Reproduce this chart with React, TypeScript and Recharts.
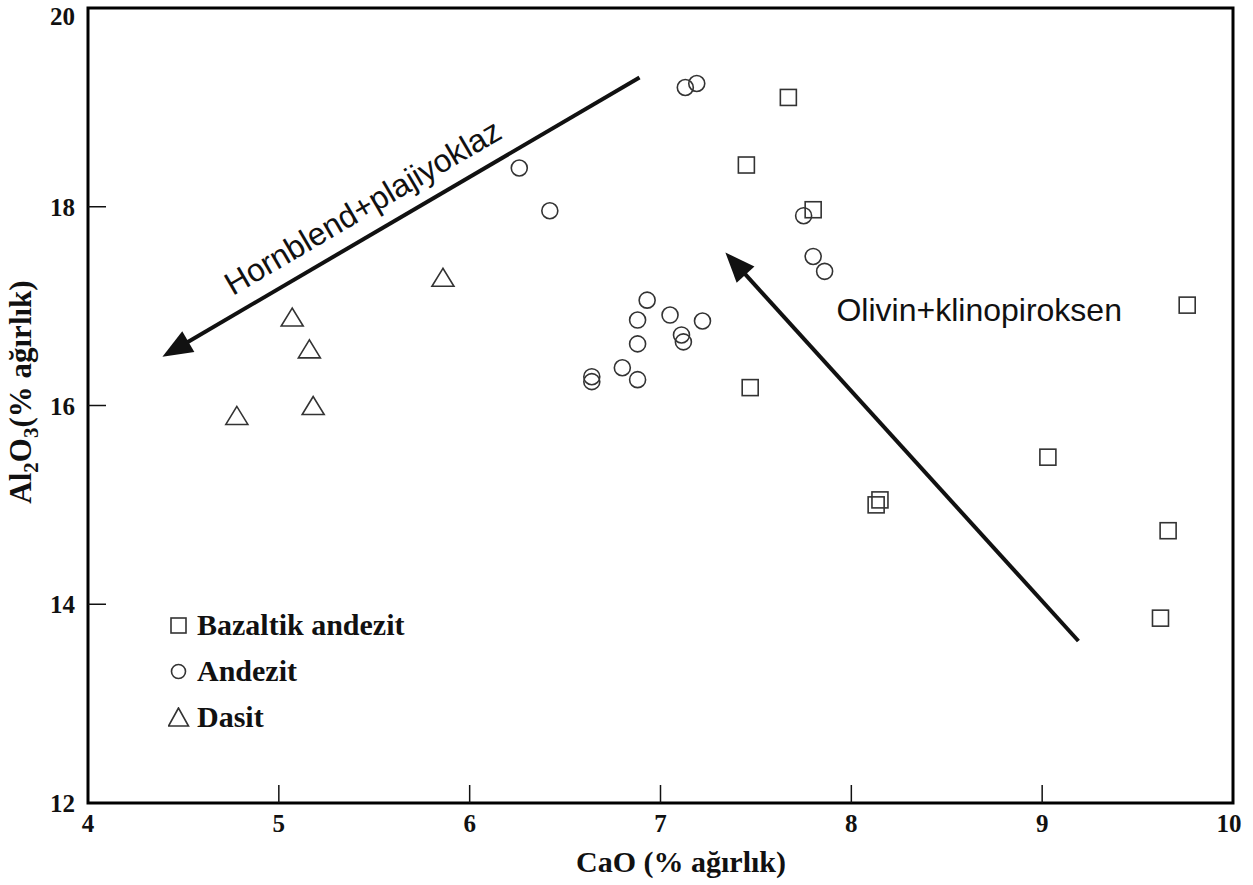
import React from "react";
import {
  ScatterChart,
  Scatter,
  XAxis,
  YAxis,
  ReferenceArea,
  ReferenceLine,
  ReferenceDot,
  Legend,
} from "recharts";

const SERIF = '"Liberation Serif", "Times New Roman", serif';
const SANS = '"Liberation Sans", Arial, sans-serif';
const INK = "#111";
const MARKER = "#333";

// axis ticks
const xTicks = [4, 5, 6, 7, 8, 9, 10];
const yTicks = [12, 14, 16, 18, 20];

// Bazaltik andezit (squares)
const bazaltikX = [7.67, 7.45, 7.8, 9.76, 7.47, 9.03, 8.15, 8.13, 9.66, 9.62];
const bazaltikY = [19.1, 18.42, 17.97, 17.01, 16.18, 15.48, 15.05, 15.0, 14.74, 13.86];

// Andezit (circles)
const andezitX = [
  7.13, 7.19, 6.26, 6.42, 7.75, 7.8, 7.86, 6.93, 6.88, 7.05, 7.22, 7.11, 7.12,
  6.88, 6.8, 6.88, 6.64, 6.64,
];
const andezitY = [
  19.2, 19.24, 18.39, 17.96, 17.91, 17.5, 17.35, 17.06, 16.86, 16.91, 16.85,
  16.71, 16.64, 16.62, 16.38, 16.26, 16.29, 16.24,
];

// Dasit (triangles)
const dasitX = [5.86, 5.07, 5.16, 5.18, 4.78];
const dasitY = [17.28, 16.88, 16.56, 15.99, 15.89];

// trend arrows (tail -> head)
const hornblendArrow = [
  { x: 6.89, y: 19.3 },
  { x: 4.39, y: 16.49 },
];
const olivinArrow = [
  { x: 9.19, y: 13.63 },
  { x: 7.34, y: 17.54 },
];
const olivinLabelAt = { x: 8.67, y: 16.96 };

const toPoints = (xs: number[], ys: number[]) =>
  xs.map((x, i) => ({ x, y: ys[i] }));

const SquareShape = (p: any) => (
  <rect
    x={p.cx - 8}
    y={p.cy - 8}
    width={16}
    height={16}
    fill="none"
    stroke={MARKER}
    strokeWidth={1.6}
  />
);

const CircleShape = (p: any) => (
  <circle cx={p.cx} cy={p.cy} r={8} fill="none" stroke={MARKER} strokeWidth={1.6} />
);

const TriangleShape = (p: any) => (
  <polygon
    points={`${p.cx},${p.cy - 10} ${p.cx - 11},${p.cy + 8} ${p.cx + 11},${p.cy + 8}`}
    fill="none"
    stroke={MARKER}
    strokeWidth={1.6}
  />
);

const BottomTick = ({ x, y, payload }: any) => (
  <g>
    {payload.value > 4 && payload.value < 10 && (
      <line x1={x} x2={x} y1={y} y2={y - 18} stroke={INK} strokeWidth={1.5} />
    )}
    <text
      x={payload.value === 10 ? x - 4 : x}
      y={y + 29}
      textAnchor="middle"
      fontFamily={SERIF}
      fontWeight="bold"
      fontSize={25}
      fill={INK}
    >
      {payload.value}
    </text>
  </g>
);

const TopTick = ({ x, y, payload }: any) =>
  payload.value > 4 && payload.value < 10 ? (
    <line x1={x} x2={x} y1={y} y2={y + 18} stroke={INK} strokeWidth={1.5} />
  ) : null;

const LeftTick = ({ x, y, payload }: any) => (
  <g>
    {payload.value > 12 && payload.value < 20 && (
      <line x1={x} x2={x + 18} y1={y} y2={y} stroke={INK} strokeWidth={1.5} />
    )}
    <text
      x={x - 13}
      y={Math.max(y, 16) + 9}
      textAnchor="end"
      fontFamily={SERIF}
      fontWeight="bold"
      fontSize={25}
      fill={INK}
    >
      {payload.value}
    </text>
  </g>
);

const RightTick = ({ x, y, payload }: any) =>
  payload.value > 12 && payload.value < 20 ? (
    <line x1={x} x2={x - 18} y1={y} y2={y} stroke={INK} strokeWidth={1.5} />
  ) : null;

const arrowShape = (label?: string) => (props: any) => {
  const { x1, y1, x2, y2 } = props;
  const dx = x2 - x1;
  const dy = y2 - y1;
  const len = Math.hypot(dx, dy);
  const ux = dx / len;
  const uy = dy / len;
  const headLen = 30;
  const headW = 12;
  const bx = x2 - ux * headLen;
  const by = y2 - uy * headLen;
  const pts = `${x2},${y2} ${bx - uy * headW},${by + ux * headW} ${bx + uy * headW},${by - ux * headW}`;
  const mx = (x1 + x2) / 2 + ux * 28 - uy * 28;
  const my = (y1 + y2) / 2 + uy * 28 + ux * 28;
  const angle = (Math.atan2(-uy, -ux) * 180) / Math.PI;
  return (
    <g>
      <line x1={x1} y1={y1} x2={bx + ux * 4} y2={by + uy * 4} stroke={INK} strokeWidth={4} />
      <polygon points={pts} fill={INK} />
      {label && (
        <text
          x={mx}
          y={my}
          transform={`rotate(${angle}, ${mx}, ${my})`}
          textAnchor="middle"
          dominantBaseline="central"
          fontFamily={SANS}
          fontSize={32}
          fill={INK}
        >
          {label}
        </text>
      )}
    </g>
  );
};

const legendRows = [
  { name: "Bazaltik andezit", icon: <rect x={3} y={3} width={15} height={15} fill="none" stroke={MARKER} strokeWidth={1.6} /> },
  { name: "Andezit", icon: <circle cx={10.5} cy={10.5} r={7} fill="none" stroke={MARKER} strokeWidth={1.6} /> },
  { name: "Dasit", icon: <polygon points="10.5,1 0.5,19 20.5,19" fill="none" stroke={MARKER} strokeWidth={1.6} /> },
];

const LegendBox = () => (
  <div style={{ fontFamily: SERIF, fontSize: 30, fontWeight: "bold", color: INK }}>
    {legendRows.map((r) => (
      <div key={r.name} style={{ display: "flex", alignItems: "center", height: 46 }}>
        <svg width={22} height={21} style={{ marginRight: 7 }}>
          {r.icon}
        </svg>
        <span>{r.name}</span>
      </div>
    ))}
  </div>
);

const YLabel = () => (
  <text
    x={31}
    y={392}
    transform="rotate(-90, 31, 392)"
    textAnchor="middle"
    fontFamily={SERIF}
    fontWeight="bold"
    fontSize={31}
    fill={INK}
  >
    Al<tspan dy={7} fontSize={21}>2</tspan>
    <tspan dy={-7}>O</tspan>
    <tspan dy={7} fontSize={21}>3</tspan>
    <tspan dy={-7}>(% ağırlık)</tspan>
  </text>
);

const XLabel = () => (
  <text
    x={681}
    y={872}
    textAnchor="middle"
    fontFamily={SERIF}
    fontWeight="bold"
    fontSize={30}
    fill={INK}
  >
    CaO (% ağırlık)
  </text>
);

export default function App() {
  return (
    <div style={{ position: "absolute", left: 0, top: 0, background: "#fff" }}>
      <ScatterChart
        width={1253}
        height={885}
        margin={{ top: 8, right: 20, bottom: 0, left: 0 }}
      >
        <XAxis
          xAxisId="bottom"
          type="number"
          dataKey="x"
          domain={[4, 10]}
          ticks={xTicks}
          interval={0}
          height={82}
          axisLine={false}
          tickLine={false}
          tickSize={0}
          tickMargin={0}
          tick={<BottomTick />}
          label={<XLabel />}
        />
        <XAxis
          xAxisId="top"
          orientation="top"
          type="number"
          domain={[4, 10]}
          ticks={xTicks}
          interval={0}
          height={0}
          axisLine={false}
          tickLine={false}
          tickSize={0}
          tickMargin={0}
          tick={<TopTick />}
        />
        <YAxis
          yAxisId="left"
          type="number"
          dataKey="y"
          domain={[12, 20]}
          ticks={yTicks}
          interval={0}
          width={88}
          axisLine={false}
          tickLine={false}
          tickSize={0}
          tickMargin={0}
          tick={<LeftTick />}
          label={<YLabel />}
        />
        <YAxis
          yAxisId="right"
          orientation="right"
          type="number"
          domain={[12, 20]}
          ticks={yTicks}
          interval={0}
          width={0}
          axisLine={false}
          tickLine={false}
          tickSize={0}
          tickMargin={0}
          tick={<RightTick />}
        />
        <ReferenceArea
          xAxisId="bottom"
          yAxisId="left"
          x1={4}
          x2={10}
          y1={12}
          y2={20}
          fill="none"
          fillOpacity={0}
          stroke="#000"
          strokeWidth={3}
        />
        <ReferenceLine
          xAxisId="bottom"
          yAxisId="left"
          segment={hornblendArrow}
          shape={arrowShape("Hornblend+plajiyoklaz")}
        />
        <ReferenceLine
          xAxisId="bottom"
          yAxisId="left"
          segment={olivinArrow}
          shape={arrowShape()}
        />
        <ReferenceDot
          xAxisId="bottom"
          yAxisId="left"
          x={olivinLabelAt.x}
          y={olivinLabelAt.y}
          r={0}
          fill="none"
          stroke="none"
          label={{
            value: "Olivin+klinopiroksen",
            position: "center",
            fontFamily: SANS,
            fontSize: 32,
            fill: INK,
          }}
        />
        <Scatter
          name="Bazaltik andezit"
          xAxisId="bottom"
          yAxisId="left"
          data={toPoints(bazaltikX, bazaltikY)}
          shape={SquareShape}
          isAnimationActive={false}
        />
        <Scatter
          name="Andezit"
          xAxisId="bottom"
          yAxisId="left"
          data={toPoints(andezitX, andezitY)}
          shape={CircleShape}
          isAnimationActive={false}
        />
        <Scatter
          name="Dasit"
          xAxisId="bottom"
          yAxisId="left"
          data={toPoints(dasitX, dasitY)}
          shape={TriangleShape}
          isAnimationActive={false}
        />
        <Legend
          layout="vertical"
          align="center"
          verticalAlign="middle"
          content={<LegendBox />}
          wrapperStyle={{ left: 168, top: 602, width: 300, height: 140 }}
        />
      </ScatterChart>
    </div>
  );
}
